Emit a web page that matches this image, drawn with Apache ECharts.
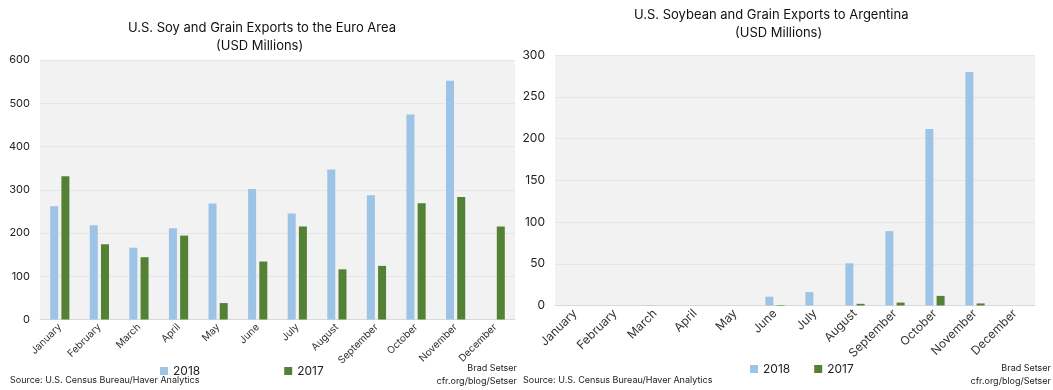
<!DOCTYPE html>
<html><head><meta charset="utf-8">
<script src="https://cdn.jsdelivr.net/npm/echarts@6/dist/echarts.min.js"></script>
<style>html,body{margin:0;padding:0;background:#fff}#c{width:1053px;height:390px}</style>
</head><body><div id="c"></div>
<script>
const months = ['January','February','March','April','May','June','July','August','September','October','November','December'];
const euro2018 = [262, 218, 166, 211, 268, 302, 245, 347, 287, 474, 552, null];
const euro2017 = [331, 174, 144, 194, 38, 134, 215, 116, 124, 269, 283, 215];
const arg2018 = [0, 0, 0.4, 0, 0, 10.5, 16, 50.5, 89, 211.5, 279.5, 0];
const arg2017 = [0, 0, 0, 0, 0, 0.6, 0, 2, 3.5, 11.5, 2.5, 0];
const euroTicks = {min: 0, max: 600, interval: 100};
const argTicks = {min: 0, max: 300, interval: 50};
const C18 = '#9dc3e6', C17 = '#548235';
const FONT = 'Inter, "Open Sans", sans-serif';

const chart = echarts.init(document.getElementById('c'), null, {renderer: 'canvas'});
function yAxis(i, t, fs){
  return {gridIndex: i, type: 'value', min: t.min, max: t.max, interval: t.interval,
    axisLine: {show: false}, axisTick: {show: false},
    axisLabel: {color: '#222', fontSize: fs, fontFamily: FONT, margin: 10},
    splitLine: {lineStyle: {color: '#e6e6e6', width: 1}}};
}
function xAxis(i, fs){
  return {gridIndex: i, type: 'category', data: months,
    axisLine: {lineStyle: {color: '#d9d9d9'}}, axisTick: {show: false},
    axisLabel: {rotate: 45, color: '#333', fontSize: fs, fontFamily: FONT, margin: 6, interval: 0}};
}
function bar(name, data, color, i){
  return {name: name, type: 'bar', xAxisIndex: i, yAxisIndex: i, data: data,
    barWidth: 8, barGap: '40%', itemStyle: {color: color}, silent: true};
}
chart.setOption({
  animation: false,
  backgroundColor: '#ffffff',
  grid: [
    {left: 40, right: 538, top: 60, height: 259.5, show: true, backgroundColor: '#f2f2f2', borderWidth: 0},
    {left: 555, right: 18, top: 55, height: 250.5, show: true, backgroundColor: '#f2f2f2', borderWidth: 0}
  ],
  xAxis: [xAxis(0, 10), xAxis(1, 12)],
  yAxis: [yAxis(0, euroTicks, 11), yAxis(1, argTicks, 12)],
  legend: [
    {data: ['2018','2017'], left: 155, top: 360, itemWidth: 8, itemHeight: 8, itemGap: 84, icon: 'rect',
     textStyle: {fontSize: 12, fontFamily: FONT, color: '#222'}},
    {data: ['2018','2017'], left: 745, top: 358, itemWidth: 8, itemHeight: 8, itemGap: 24, icon: 'rect',
     textStyle: {fontSize: 12, fontFamily: FONT, color: '#222'}}
  ],
  series: [
    bar('2018', euro2018, C18, 0), bar('2017', euro2017, C17, 0),
    bar('2018', arg2018, C18, 1), bar('2017', arg2017, C17, 1)
  ],
  graphic: [
    {type: 'text', left: 128, top: 22, style: {text: 'U.S. Soy and Grain Exports to the Euro Area', fontSize: 13, fontFamily: FONT, fill: '#111'}},
    {type: 'text', left: 216, top: 40, style: {text: '(USD Millions)', fontSize: 13, fontFamily: FONT, fill: '#111'}},
    {type: 'text', left: 634, top: 9, style: {text: 'U.S. Soybean and Grain Exports to Argentina', fontSize: 13, fontFamily: FONT, fill: '#111'}},
    {type: 'text', left: 735, top: 27, style: {text: '(USD Millions)', fontSize: 13, fontFamily: FONT, fill: '#111'}},
    {type: 'text', left: 10, top: 376, style: {text: 'Source: U.S. Census Bureau/Haver Analytics', fontSize: 9, fontFamily: FONT, fill: '#222'}},
    {type: 'text', right: 1053 - 517, top: 364, style: {text: 'Brad Setser', fontSize: 9, fontFamily: FONT, fill: '#222', align: 'right'}},
    {type: 'text', right: 1053 - 517, top: 377, style: {text: 'cfr.org/blog/Setser', fontSize: 9, fontFamily: FONT, fill: '#222', align: 'right'}},
    {type: 'text', left: 523, top: 376, style: {text: 'Source: U.S. Census Bureau/Haver Analytics', fontSize: 9, fontFamily: FONT, fill: '#222'}},
    {type: 'text', right: 2, top: 364, style: {text: 'Brad Setser', fontSize: 9, fontFamily: FONT, fill: '#222', align: 'right'}},
    {type: 'text', right: 2, top: 377, style: {text: 'cfr.org/blog/Setser', fontSize: 9, fontFamily: FONT, fill: '#222', align: 'right'}}
  ]
});
</script></body></html>
